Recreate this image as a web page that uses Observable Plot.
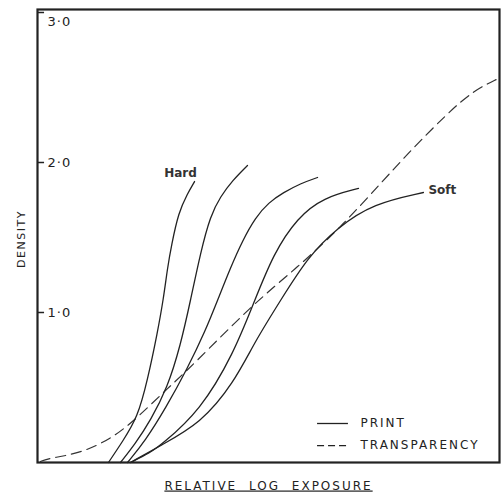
<!DOCTYPE html>
<html><head><meta charset="utf-8">
<script src="https://cdn.jsdelivr.net/npm/d3@7"></script>
<script src="https://cdn.jsdelivr.net/npm/@observablehq/plot@0.6"></script>
<style>body{margin:0;background:#fff} svg{display:block}</style>
</head><body><div id="chart"></div>
<script>
// ---- data (relative log exposure, density) ----
const hardX = [0.473, 0.567, 0.667, 0.733, 0.80, 0.84, 0.867, 0.893, 0.94, 1.0, 1.047];
const hardY = [0.0, 0.14, 0.30, 0.547, 0.867, 1.093, 1.30, 1.447, 1.667, 1.793, 1.873];

const print2X = [0.553, 0.653, 0.753, 0.867, 0.953, 1.02, 1.087, 1.153, 1.22, 1.30, 1.40];
const print2Y = [0.0, 0.127, 0.28, 0.50, 0.78, 1.08, 1.40, 1.647, 1.773, 1.88, 1.98];

const print3X = [0.60, 0.72, 0.853, 1.0, 1.12, 1.20, 1.287, 1.367, 1.453, 1.54, 1.64, 1.753, 1.867];
const print3Y = [0.0, 0.147, 0.36, 0.627, 0.88, 1.08, 1.30, 1.48, 1.633, 1.733, 1.80, 1.86, 1.90];

const print4X = [0.62, 0.753, 0.82, 1.087, 1.307, 1.44, 1.573, 1.733, 1.907, 2.14];
const print4Y = [0.0, 0.067, 0.113, 0.347, 0.727, 1.06, 1.393, 1.633, 1.767, 1.827];

const softX = [0.62, 0.82, 1.087, 1.307, 1.453, 1.62, 1.80, 2.0, 2.24, 2.573];
const softY = [0.0, 0.113, 0.26, 0.527, 0.813, 1.08, 1.367, 1.567, 1.727, 1.80];

const transX = [0.02, 0.067, 0.287, 0.507, 0.667, 0.873, 1.02, 1.44, 1.733, 2.02, 2.287, 2.507, 2.733, 2.907, 3.073];
const transY = [0.007, 0.027, 0.06, 0.167, 0.30, 0.50, 0.633, 1.06, 1.30, 1.567, 1.86, 2.10, 2.327, 2.48, 2.56];

const yTicks = [1, 2, 3];
const yTickLabels = ["1·0", "2·0", "3·0"];
const curveLabels = ["Hard", "Soft"];
const legendLabels = ["PRINT", "TRANSPARENCY"];
const xLabel = "RELATIVE LOG EXPOSURE";
const yLabel = "DENSITY";

// ---- build tables ----
const zip = (name, xs, ys) => xs.map((x, i) => ({series: name, x, y: ys[i]}));
const prints = [
  ...zip("hard", hardX, hardY),
  ...zip("p2", print2X, print2Y),
  ...zip("p3", print3X, print3Y),
  ...zip("p4", print4X, print4Y),
  ...zip("soft", softX, softY)
];
const trans = zip("trans", transX, transY);
const tickRows = yTicks.map((v, i) => ({v, label: yTickLabels[i]}));

const ink = "#222";
const font = "DejaVu Sans, Verdana, sans-serif";

// layout (in data units)
const xMax = 3.08, yMax = 3.02;
const tickLen = 0.047;
const lg = {x1: 1.867, x2: 2.073, xt: 2.153, y: [0.26, 0.113]};
const legendRows = legendLabels.map((t, i) => ({t, y: lg.y[i]}));

const chart = Plot.plot({
  width: 503,
  height: 495,
  marginLeft: 37,
  marginRight: 4,
  marginTop: 9,
  marginBottom: 33,
  style: {fontFamily: font, background: "#fff", color: ink},
  x: {domain: [0, xMax], axis: null},
  y: {domain: [0, yMax], axis: null},
  marks: [
    Plot.line(trans, {x: "x", y: "y", curve: "basis", stroke: "#333", strokeWidth: 1.2, strokeDasharray: "10,6"}),
    Plot.line(prints, {x: "x", y: "y", z: "series", curve: "basis", stroke: ink, strokeWidth: 1.3}),
    Plot.frame({stroke: ink, strokeWidth: 2.2}),
    Plot.ruleY(tickRows, {y: "v", x1: 0, x2: tickLen, stroke: ink, strokeWidth: 1.5}),
    Plot.text(tickRows.slice(0, 2), {x: 0, y: "v", text: "label", textAnchor: "start", dx: 10, fontSize: 13, fill: ink}),
    Plot.text(tickRows.slice(2), {x: 0, y: "v", text: "label", textAnchor: "start", dx: 10, dy: 9, fontSize: 13, fill: ink}),
    Plot.text([curveLabels[0]], {x: hardX[hardX.length - 1], y: hardY[hardY.length - 1], text: d => d, dx: -14, dy: -8, fontSize: 12, fontWeight: "bold", fill: "#333"}),
    Plot.text([curveLabels[1]], {x: softX[softX.length - 1], y: softY[softY.length - 1], text: d => d, textAnchor: "start", dx: 5, dy: -2, fontSize: 12, fontWeight: "bold", fill: "#333"}),
    Plot.ruleY(legendRows.slice(0, 1), {y: "y", x1: lg.x1, x2: lg.x2, stroke: ink, strokeWidth: 1.3}),
    Plot.ruleY(legendRows.slice(1), {y: "y", x1: lg.x1, x2: lg.x2, stroke: ink, strokeWidth: 1.3, strokeDasharray: "7,4"}),
    Plot.text(legendRows, {x: lg.xt, y: "y", text: "t", textAnchor: "start", fontSize: 12, fill: ink}),
    Plot.text([xLabel], {frameAnchor: "bottom", dy: 27, text: d => d, fontSize: 12, fill: ink}),
    Plot.text([yLabel], {frameAnchor: "left", dx: -16, dy: 3, rotate: -90, textAnchor: "middle", text: d => d, fontSize: 11, fill: ink})
  ]
});

const sel = d3.select(chart);
sel.selectAll("text").filter(function() { return this.textContent === xLabel; })
  .style("text-decoration", "underline").style("letter-spacing", "2px").style("word-spacing", "6px");
sel.selectAll("text").filter(function() { return legendLabels.includes(this.textContent); })
  .style("letter-spacing", "2px");
sel.selectAll("text").filter(function() { return this.textContent === yLabel; })
  .style("letter-spacing", "1.5px");
sel.selectAll("text").filter(function() { return yTickLabels.includes(this.textContent); })
  .style("letter-spacing", "1px");
document.getElementById("chart").appendChild(chart);
</script>
</body></html>
